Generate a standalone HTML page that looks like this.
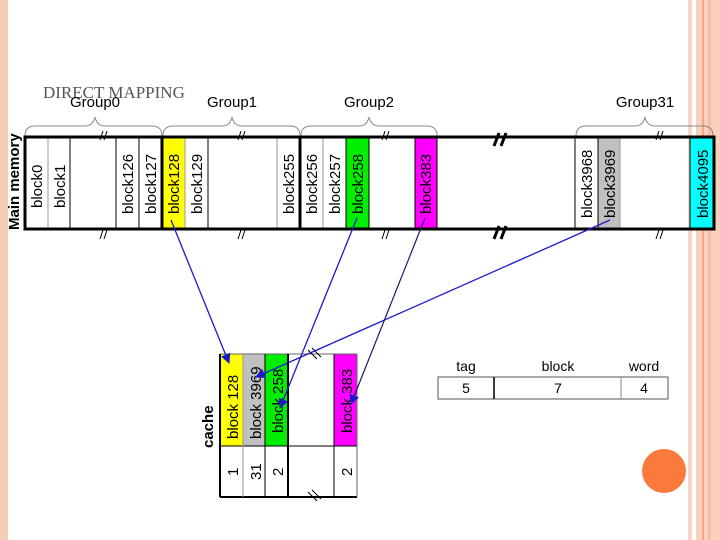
<!DOCTYPE html>
<html><head><style>
body{margin:0;background:#fff;width:720px;height:540px;overflow:hidden}
svg{display:block}
</style></head><body>
<svg width="720" height="540" viewBox="0 0 720 540" xmlns="http://www.w3.org/2000/svg" font-family="Liberation Sans, sans-serif">
<defs><marker id="ah" markerWidth="10" markerHeight="10" refX="9" refY="5" orient="auto" markerUnits="userSpaceOnUse"><path d="M0,0 L10,5 L0,10 z" fill="#1a1acc"/></marker></defs>
<rect x="0" y="0" width="8" height="540" fill="#f6cbb8"/>
<rect x="688" y="0" width="4" height="540" fill="#f9d3c3"/>
<rect x="696" y="0" width="24" height="540" fill="#fbd0bc"/>
<rect x="702" y="0" width="2" height="540" fill="#f0a88a"/>
<rect x="708" y="0" width="3" height="540" fill="#f5bca3"/>
<text x="43" y="98" font-family="Liberation Serif, serif" font-size="17" fill="#555">DIRECT MAPPING</text>
<g font-size="15" fill="#000" text-anchor="middle">
<text x="95" y="107">Group0</text><text x="232" y="107">Group1</text><text x="369" y="107">Group2</text><text x="645" y="107">Group31</text>
</g>
<g fill="none" stroke="#888" stroke-width="1">
<path d="M25,136 Q25,126 35,126 L85,126 Q93,126 95,117 Q97,126 105,126 L152,126 Q162,126 162,136"/>
<path d="M163,136 Q163,126 173,126 L222,126 Q230,126 232,117 Q234,126 242,126 L290,126 Q300,126 300,136"/>
<path d="M301,136 Q301,126 311,126 L359,126 Q367,126 369,117 Q371,126 379,126 L427,126 Q437,126 437,136"/>
<path d="M576,136 Q576,126 586,126 L635,126 Q643,126 645,117 Q647,126 655,126 L703,126 Q713,126 713,136"/>
</g>
<rect x="162" y="137" width="23" height="92" fill="#ffff00"/>
<rect x="346" y="137" width="23" height="92" fill="#00ee00"/>
<rect x="415" y="137" width="22" height="92" fill="#ff00ff"/>
<rect x="598" y="137" width="22" height="92" fill="#c0c0c0"/>
<rect x="690" y="137" width="24" height="92" fill="#00ffff"/>
<g stroke="#999" stroke-width="1">
<line x1="48" y1="137" x2="48" y2="229"/><line x1="185" y1="137" x2="185" y2="229"/><line x1="277" y1="137" x2="277" y2="229"/><line x1="323" y1="137" x2="323" y2="229"/><line x1="620" y1="137" x2="620" y2="229"/>
</g>
<g stroke="#000" stroke-width="1">
<line x1="70" y1="137" x2="70" y2="229"/><line x1="116" y1="137" x2="116" y2="229"/><line x1="139" y1="137" x2="139" y2="229"/><line x1="208" y1="137" x2="208" y2="229"/><line x1="346" y1="137" x2="346" y2="229"/><line x1="369" y1="137" x2="369" y2="229"/><line x1="415" y1="137" x2="415" y2="229"/><line x1="437" y1="137" x2="437" y2="229"/><line x1="575" y1="137" x2="575" y2="229"/><line x1="598" y1="137" x2="598" y2="229"/><line x1="690" y1="137" x2="690" y2="229"/>
</g>
<g stroke="#000" stroke-width="3" fill="none">
<line x1="162" y1="137" x2="162" y2="229"/><line x1="300" y1="137" x2="300" y2="229"/>
<rect x="25" y="137" width="689" height="92"/>
</g>
<g font-size="15" fill="#000">
<text transform="translate(42,208) rotate(-90)">block0</text>
<text transform="translate(65,208) rotate(-90)">block1</text>
<text transform="translate(133,214) rotate(-90)">block126</text>
<text transform="translate(156,214) rotate(-90)">block127</text>
<text transform="translate(179,214) rotate(-90)">block128</text>
<text transform="translate(202,214) rotate(-90)">block129</text>
<text transform="translate(294,214) rotate(-90)">block255</text>
<text transform="translate(317,214) rotate(-90)">block256</text>
<text transform="translate(340,214) rotate(-90)">block257</text>
<text transform="translate(363,214) rotate(-90)">block258</text>
<text transform="translate(431,214) rotate(-90)">block383</text>
<text transform="translate(592,218) rotate(-90)">block3968</text>
<text transform="translate(615,218) rotate(-90)">block3969</text>
<text transform="translate(708,218) rotate(-90)">block4095</text>
<text transform="translate(19,230) rotate(-90)" font-weight="bold">Main memory</text>
</g>
<g stroke="#000" stroke-width="1">
<path d="M100,140 l3,-9 M104,140 l3,-9 M100,239 l3,-9 M104,239 l3,-9"/>
<path d="M238,140 l3,-9 M242,140 l3,-9 M238,239 l3,-9 M242,239 l3,-9"/>
<path d="M382,140 l3,-9 M386,140 l3,-9 M382,239 l3,-9 M386,239 l3,-9"/>
<path d="M656,140 l3,-9 M660,140 l3,-9 M656,239 l3,-9 M660,239 l3,-9"/>
</g>
<g stroke="#000" stroke-width="3">
<path d="M494,146 l5,-13 M501,146 l5,-13 M494,239 l5,-13 M501,239 l5,-13"/>
</g>
<rect x="220" y="354" width="23" height="92" fill="#ffff00"/>
<rect x="243" y="354" width="22" height="92" fill="#c0c0c0"/>
<rect x="265" y="354" width="23" height="92" fill="#00ee00"/>
<rect x="334" y="354" width="23" height="92" fill="#ff00ff"/>
<g stroke="#000" stroke-width="1" fill="none">
<line x1="220" y1="354" x2="357" y2="354" stroke="#666"/>
<line x1="220" y1="354" x2="220" y2="497" stroke-width="2"/>
<line x1="220" y1="446" x2="357" y2="446"/>
<line x1="220" y1="497" x2="357" y2="497" stroke-width="2"/>
<line x1="243" y1="354" x2="243" y2="497" stroke="#999"/>
<line x1="265" y1="354" x2="265" y2="497"/>
<line x1="288" y1="354" x2="288" y2="497" stroke-width="2"/>
<line x1="334" y1="354" x2="334" y2="497"/>
<line x1="357" y1="354" x2="357" y2="497" stroke="#666"/>
<path d="M308,350 l9,9 M312,348 l9,9 M308,492 l9,9 M312,490 l9,9"/>
</g>
<g font-size="15" fill="#000">
<text transform="translate(238,439) rotate(-90)">block 128</text>
<text transform="translate(261,439) rotate(-90)">block 3969</text>
<text transform="translate(283,433) rotate(-90)">block 258</text>
<text transform="translate(352,433) rotate(-90)">block 383</text>
<text transform="translate(238,476) rotate(-90)">1</text>
<text transform="translate(261,480) rotate(-90)">31</text>
<text transform="translate(283,476) rotate(-90)">2</text>
<text transform="translate(352,476) rotate(-90)">2</text>
<text transform="translate(213,448) rotate(-90)" font-weight="bold">cache</text>
</g>
<g stroke="#1a1acc" stroke-width="1.3" marker-end="url(#ah)">
<line x1="171" y1="220" x2="229" y2="363"/>
<line x1="357" y1="218" x2="280" y2="408"/>
<line x1="610" y1="220" x2="256" y2="377"/>
</g>
<line x1="425" y1="218" x2="351" y2="404" stroke="#1a1a66" stroke-width="1.2" marker-end="url(#ah)"/>
<g font-size="14" fill="#000" text-anchor="middle">
<text x="466" y="371">tag</text><text x="558" y="371">block</text><text x="644" y="371">word</text>
<text x="466" y="393">5</text><text x="558" y="393">7</text><text x="644" y="393">4</text>
</g>
<rect x="438" y="377" width="230" height="22" fill="none" stroke="#555" stroke-width="1"/>
<line x1="494" y1="377" x2="494" y2="399" stroke="#000" stroke-width="1.5"/>
<line x1="621" y1="377" x2="621" y2="399" stroke="#888"/>
<circle cx="664" cy="471" r="22" fill="#fa7a3c"/>
</svg>
</body></html>
